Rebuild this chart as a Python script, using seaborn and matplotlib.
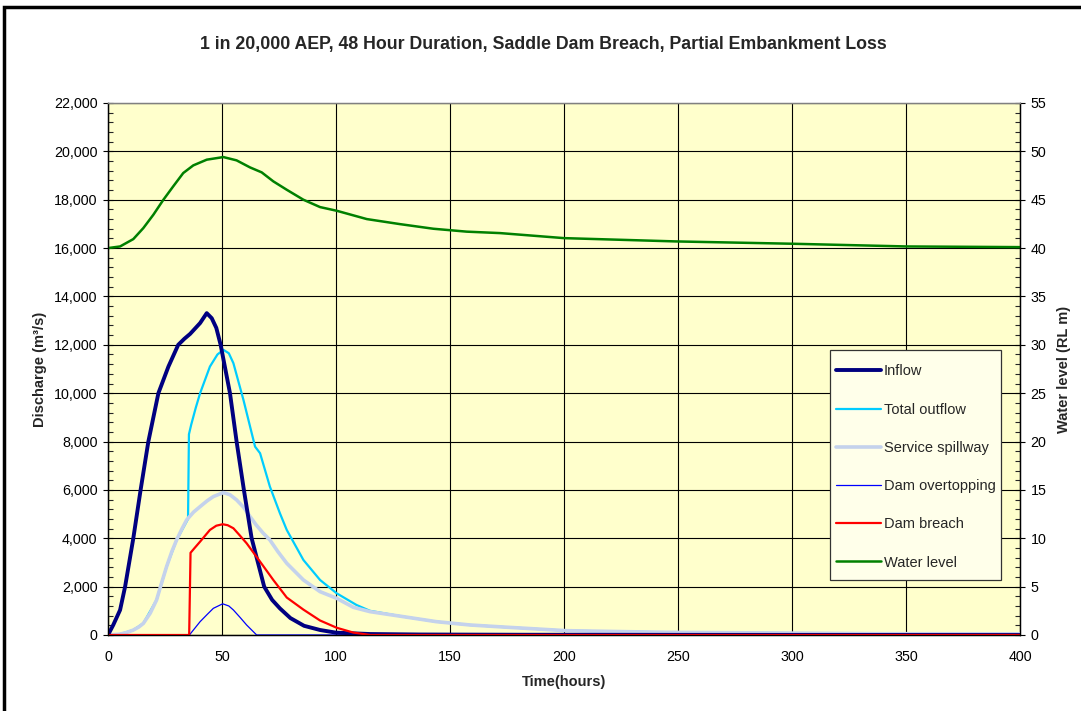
import matplotlib
matplotlib.use("Agg")
import matplotlib.pyplot as plt
import seaborn as sns
from matplotlib.patches import Rectangle
from matplotlib.ticker import MultipleLocator, FuncFormatter

# ---- data ----
inflow_t = [0, 2.3, 5.3, 7.5, 11.1, 14.3, 17.7, 22.1, 26.5, 30.8, 33.5, 36, 40.4, 43.3, 45.5,
            47.5, 49.4, 53.5, 56.4, 59.6, 63, 68.5, 72, 75.4, 80, 86, 93, 100, 115, 137, 180,
            250, 400]
inflow_q = [0, 414, 1034, 2000, 4000, 6000, 8000, 10000, 11100, 12000, 12250, 12450, 12900,
            13310, 13100, 12700, 12000, 10000, 8000, 6000, 4000, 2000, 1450, 1100, 700, 380,
            207, 97, 40, 20, 10, 5, 0]

outflow_t = [0, 5, 11, 15.5, 21.3, 25.7, 30.1, 35.1, 35.5, 36.5, 38.5, 40.4, 44.7, 48, 50.6, 53,
             55, 59.4, 64.5, 66.7, 71, 75.4, 78.4, 85.7, 93, 100.3, 109, 114.9, 129.5, 144,
             158.8, 173.4, 201, 245, 293, 337, 400]
outflow_q = [0, 30, 200, 480, 1448, 2828, 3931, 4800, 8300, 8700, 9400, 10000, 11100, 11600,
             11793, 11650, 11240, 9724, 7790, 7517, 6138, 5035, 4345, 3103, 2276, 1724, 1241,
             1000, 759, 552, 414, 330, 179, 110, 83, 55, 50]

spill_t = [0, 5, 8, 11, 13.5, 15.5, 18.5, 21.3, 23.5, 25.7, 28, 30.1, 32.5, 34.5, 37.5, 40.4,
           43.5, 46.2, 50.6, 53.5, 56.4, 59.5, 62.3, 65, 68.1, 71, 74.5, 78.4, 85.7, 93, 100.3,
           107.6, 114.9, 129.5, 144, 158.8, 173.4, 201, 245, 293, 337, 400]
spill_q = [0, 30, 100, 200, 330, 480, 900, 1448, 2150, 2828, 3450, 3931, 4400, 4759, 5080, 5310,
           5550, 5724, 5890, 5800, 5586, 5280, 4897, 4550, 4207, 3931, 3450, 2966, 2276, 1793,
           1517, 1145, 966, 759, 552, 414, 330, 179, 110, 83, 55, 50]

overtop_t = [0, 35.7, 40.4, 43.5, 46.2, 50.3, 53, 55, 58, 60.8, 65.2, 400]
overtop_q = [0, 0, 552, 850, 1103, 1290, 1200, 1034, 720, 414, 0, 0]

breach_t = [0, 35.6, 36.2, 38, 40.4, 44.7, 47.5, 50.3, 52.5, 55, 57.5, 60.8, 66.7, 72.5, 78.4,
            85.7, 93, 100.3, 107.6, 115, 400]
breach_q = [0, 0, 3400, 3600, 3862, 4345, 4520, 4580, 4540, 4414, 4150, 3793, 3034, 2276, 1550,
            1050, 600, 300, 100, 0, 0]

level_t = [0, 5.3, 11.1, 15.5, 19.9, 24.3, 28.6, 33, 37.4, 43.3, 50.6, 56.4, 62.3, 67.4, 72.5,
           78.4, 85.7, 93, 100.3, 113.5, 128, 142.7, 157.3, 172, 200, 249, 300, 350, 400]
level_h = [40, 40.17, 40.93, 42.07, 43.45, 45, 46.38, 47.76, 48.55, 49.14, 49.41, 49.07, 48.34,
           47.83, 46.9, 46.03, 45, 44.24, 43.86, 43, 42.48, 42, 41.7, 41.55, 41.03, 40.69,
           40.45, 40.17, 40.1]

title = "1 in 20,000 AEP, 48 Hour Duration, Saddle Dam Breach, Partial Embankment Loss"

sns.set_style("white")
plt.rcParams['font.family'] = ['Liberation Sans', 'DejaVu Sans']

fig = plt.figure(figsize=(10.81, 7.11), dpi=100)
ax = fig.add_axes([108 / 1081, 1 - 635 / 711, 912 / 1081, 532 / 711])
ax.set_facecolor('#FFFFCC')
ax2 = ax.twinx()

# draw order mimics the Excel layering
sns.lineplot(x=outflow_t, y=outflow_q, ax=ax, color='#00CCFF', lw=1.6, label='Total outflow',
             estimator=None, legend=False, zorder=3)
sns.lineplot(x=spill_t, y=spill_q, ax=ax, color='#C4D2EC', lw=2.6, label='Service spillway',
             estimator=None, legend=False, zorder=4)
sns.lineplot(x=overtop_t, y=overtop_q, ax=ax, color='#0000FF', lw=0.9, label='Dam overtopping',
             estimator=None, legend=False, zorder=5)
sns.lineplot(x=inflow_t, y=inflow_q, ax=ax, color='#000080', lw=2.8, label='Inflow',
             estimator=None, legend=False, zorder=6)
sns.lineplot(x=breach_t, y=breach_q, ax=ax, color='#FF0000', lw=1.6, label='Dam breach',
             estimator=None, legend=False, zorder=7)
sns.lineplot(x=level_t, y=level_h, ax=ax2, color='#008000', lw=1.8, label='Water level',
             estimator=None, legend=False)

ax.set_xlim(0, 400)
ax.set_ylim(0, 22000)
ax2.set_ylim(0, 55)

ax.xaxis.set_major_locator(MultipleLocator(50))
ax.yaxis.set_major_locator(MultipleLocator(2000))
ax.yaxis.set_minor_locator(MultipleLocator(400))
ax2.yaxis.set_major_locator(MultipleLocator(5))
ax2.yaxis.set_minor_locator(MultipleLocator(1))
ax.yaxis.set_major_formatter(FuncFormatter(lambda v, p: f'{int(v):,}'))

ax.grid(True, which='major', color='black', lw=0.8)
ax.set_axisbelow(True)

ax.tick_params(axis='x', which='major', direction='out', length=5, width=0.8, labelsize=10.3,
               pad=6, colors='black')
ax.tick_params(axis='y', which='major', direction='inout', length=7, width=0.8, labelsize=10.3,
               pad=4, left=True, colors='black')
ax.tick_params(axis='y', which='minor', direction='in', length=3.5, width=0.8, left=True)
ax2.tick_params(axis='y', which='major', direction='inout', length=7, width=0.8, labelsize=10.3,
                pad=4, right=True, colors='black')
ax2.tick_params(axis='y', which='minor', direction='in', length=3.5, width=0.8, right=True)

for a in (ax, ax2):
    for s in a.spines.values():
        s.set_color('black')
        s.set_linewidth(0.9)
    a.spines['top'].set_color('#808080')

ax.set_xlabel('Time(hours)', fontsize=10.5, fontweight='bold', labelpad=8)
ax.set_ylabel('Discharge (m³/s)', fontsize=10.5, fontweight='bold', labelpad=5)
ax2.set_ylabel('Water level (RL m)', fontsize=10.5, fontweight='bold', labelpad=8)

fig.text(0.503, 1 - 44 / 711, title, ha='center', va='center', fontsize=12.8, fontweight='bold')

# legend box drawn as its own frame, entries placed inside it
ax2.add_patch(Rectangle((0.7917, 0.1034), 0.1875, 0.4323, transform=ax2.transAxes,
                        facecolor='#FFFFEA', edgecolor='#333333', lw=0.9, zorder=9))
h1, l1 = ax.get_legend_handles_labels()
h2, l2 = ax2.get_legend_handles_labels()
handles = dict(zip(l1 + l2, h1 + h2))
order = ['Inflow', 'Total outflow', 'Service spillway', 'Dam overtopping', 'Dam breach',
         'Water level']
leg = ax2.legend([handles[k] for k in order], order, loc='upper left',
                 bbox_to_anchor=(0.7985, 0.5085), fontsize=10.5, frameon=False,
                 labelspacing=1.66, handlelength=3.1, handletextpad=0.15, borderpad=0,
                 borderaxespad=0)
leg.set_zorder(10)

fig.patches.append(Rectangle((4 / 1081, -0.02), 1.2, 1 - 7 / 711 + 0.02, transform=fig.transFigure,
                             fill=False, edgecolor='black', lw=2.5, clip_on=False))

fig.savefig('out.png', dpi=100, facecolor='white')
